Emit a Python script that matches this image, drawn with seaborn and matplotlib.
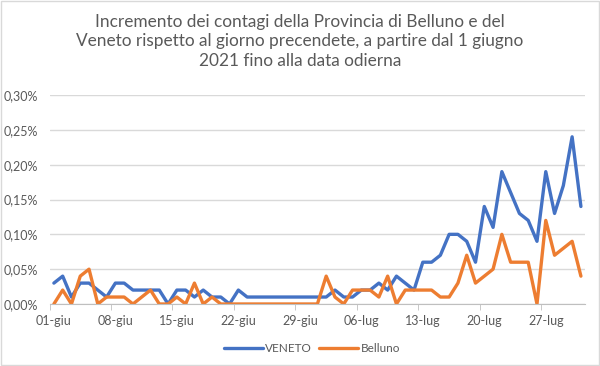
import numpy as np
import pandas as pd
import seaborn as sns
import matplotlib.pyplot as plt
from matplotlib.ticker import FuncFormatter, FixedLocator

# daily increment (%) from 01-giu to 31-lug 2021
veneto = [0.03, 0.04, 0.01, 0.03, 0.03, 0.02, 0.01, 0.03, 0.03, 0.02,
          0.02, 0.02, 0.02, 0.00, 0.02, 0.02, 0.01, 0.02, 0.01, 0.01,
          0.00, 0.02, 0.01, 0.01, 0.01, 0.01, 0.01, 0.01, 0.01, 0.01,
          0.01, 0.01, 0.02, 0.01, 0.01, 0.02, 0.02, 0.03, 0.02, 0.04,
          0.03, 0.02, 0.06, 0.06, 0.07, 0.10, 0.10, 0.09, 0.06, 0.14,
          0.11, 0.19, 0.16, 0.13, 0.12, 0.09, 0.19, 0.13, 0.17, 0.24,
          0.14]
belluno = [0.00, 0.02, 0.00, 0.04, 0.05, 0.00, 0.01, 0.01, 0.01, 0.00,
           0.01, 0.02, 0.00, 0.00, 0.01, 0.00, 0.03, 0.00, 0.01, 0.00,
           0.00, 0.00, 0.00, 0.00, 0.00, 0.00, 0.00, 0.00, 0.00, 0.00,
           0.00, 0.04, 0.01, 0.00, 0.02, 0.02, 0.02, 0.01, 0.04, 0.00,
           0.02, 0.02, 0.02, 0.02, 0.01, 0.01, 0.03, 0.07, 0.03, 0.04,
           0.05, 0.10, 0.06, 0.06, 0.06, 0.00, 0.12, 0.07, 0.08, 0.09,
           0.04]
tick_labels = ["01-giu", "08-giu", "15-giu", "22-giu", "29-giu",
               "06-lug", "13-lug", "20-lug", "27-lug"]
y_ticks = [0.00, 0.05, 0.10, 0.15, 0.20, 0.25, 0.30]

days = np.arange(len(veneto))
df = pd.concat([
    pd.DataFrame({"giorno": days, "valore": veneto, "serie": "VENETO"}),
    pd.DataFrame({"giorno": days, "valore": belluno, "serie": "Belluno"}),
])

sns.set_style("white")
plt.rcParams["font.family"] = ["Lato", "DejaVu Sans"]
grey = "#595959"

fig = plt.figure(figsize=(6, 3.66), dpi=100)
ax = fig.add_axes([0.0825, 0.1694, 0.893, 0.571])

sns.lineplot(data=df, x="giorno", y="valore", hue="serie",
             palette={"VENETO": "#4472C4", "Belluno": "#ED7D31"},
             linewidth=2.4, ax=ax)

ax.set_xlim(-0.5, len(veneto) - 0.5)
ax.set_ylim(0, 0.30)
ax.set_yticks(y_ticks)
ax.yaxis.set_major_formatter(FuncFormatter(lambda v, p: f"{v:.2f}%".replace(".", ",")))
ax.set_xticks(np.arange(0, len(veneto), 7))
ax.set_xticklabels(tick_labels)
ax.xaxis.set_minor_locator(FixedLocator(np.arange(0, len(veneto), 7) - 0.5))
ax.tick_params(axis="x", which="major", length=0, pad=8, labelsize=9, labelcolor=grey)
ax.tick_params(axis="x", which="minor", length=4, color="#BFBFBF", bottom=True)
ax.tick_params(axis="y", length=0, pad=8, labelsize=9, labelcolor=grey)
ax.grid(axis="y", color="#D9D9D9", linewidth=1)
ax.set_axisbelow(True)
for s in ["top", "right", "left"]:
    ax.spines[s].set_visible(False)
ax.spines["bottom"].set_color("#BFBFBF")
ax.set_xlabel("")
ax.set_ylabel("")

ax.legend(loc="upper center", bbox_to_anchor=(0.49, -0.135), ncol=2, frameon=False,
          fontsize=8.5, labelcolor=grey, handlelength=3.3, columnspacing=0.6,
          handletextpad=0.2)

fig.text(0.5, 0.963,
         "Incremento dei contagi della Provincia di Belluno e del\n"
         "Veneto rispetto al giorno precendete, a partire dal 1 giugno\n"
         "2021 fino alla data odierna",
         ha="center", va="top", fontsize=12.4, color=grey, linespacing=1.3)

fig.patches.append(plt.Rectangle((0.002, 0.003), 0.996, 0.994, transform=fig.transFigure,
                                 fill=False, edgecolor="#D9D9D9", linewidth=1))

fig.savefig("out.png", dpi=100)
